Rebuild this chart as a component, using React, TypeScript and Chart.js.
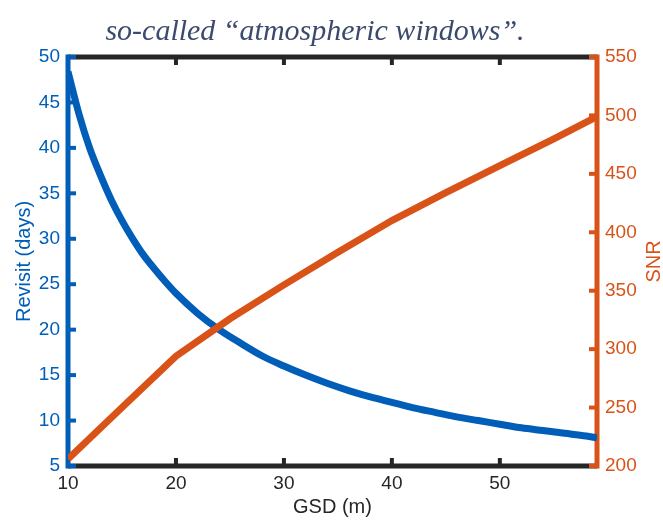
import React, { useEffect, useRef } from "react";
import { Chart, registerables } from "chart.js";

Chart.register(...registerables);

// ---- data ----
const revisitGsd = [10, 11, 12, 13, 14, 15, 16, 17, 18, 19, 20, 22, 24, 26, 28, 30, 32, 34, 36, 38, 40, 42, 44, 46, 48, 50, 52, 54, 56, 58, 59];
const revisitDays = [48.4, 43.8, 40, 37, 34.3, 32, 30, 28.2, 26.7, 25.3, 24, 21.8, 20, 18.5, 17.1, 16, 15, 14.1, 13.3, 12.6, 12, 11.4, 10.9, 10.4, 10, 9.6, 9.2, 8.9, 8.6, 8.3, 8.1];
const snrGsd = [10, 15, 20, 25, 30, 35, 40, 45, 50, 55, 59];
const snrValues = [206, 250, 294, 326, 355, 383, 410, 434, 457, 480, 499];
const gsdTicks = [10, 20, 30, 40, 50];
const revisitTicks = [5, 10, 15, 20, 25, 30, 35, 40, 45, 50];
const snrTicks = [200, 250, 300, 350, 400, 450, 500, 550];

const TITLE = "so-called \u201catmospheric windows\u201d.";
const X_LABEL = "GSD (m)";
const Y_LABEL = "Revisit (days)";
const Y1_LABEL = "SNR";

const BLUE = "#005EB8";
const ORANGE = "#D95319";
const DARK = "#262626";
const FONT = "'Liberation Sans', Arial, Helvetica, sans-serif";

const framePlugin = {
  id: "frame",
  beforeDatasetsDraw(chart: any) {
    const { ctx, chartArea, scales } = chart;
    const { left, right, top, bottom } = chartArea;
    const seg = (x1: number, y1: number, x2: number, y2: number) => {
      ctx.beginPath();
      ctx.moveTo(x1, y1);
      ctx.lineTo(x2, y2);
      ctx.stroke();
    };
    ctx.save();
    ctx.lineCap = "butt";
    ctx.strokeStyle = DARK;
    ctx.lineWidth = 5;
    seg(left, top, right, top);
    seg(left, bottom, right, bottom);
    ctx.lineWidth = 4;
    for (const v of gsdTicks) {
      const x = scales.x.getPixelForValue(v);
      seg(x, bottom, x, bottom - 8);
      seg(x, top, x, top + 8);
    }
    ctx.strokeStyle = BLUE;
    ctx.lineWidth = 5;
    seg(left, top - 2.5, left, bottom + 2.5);
    ctx.lineWidth = 4;
    for (const v of revisitTicks) {
      const y = scales.y.getPixelForValue(v);
      seg(left, y, left + 8, y);
    }
    ctx.strokeStyle = ORANGE;
    ctx.lineWidth = 5;
    seg(right, top - 2.5, right, bottom + 2.5);
    ctx.lineWidth = 4;
    for (const v of snrTicks) {
      const y = scales.y1.getPixelForValue(v);
      seg(right, y, right - 8, y);
    }
    ctx.restore();
  },
  afterDraw(chart: any) {
    const { ctx, chartArea } = chart;
    ctx.save();
    ctx.translate(654, (chartArea.top + chartArea.bottom) / 2);
    ctx.rotate(-Math.PI / 2);
    ctx.fillStyle = ORANGE;
    ctx.font = `20px ${FONT}`;
    ctx.textAlign = "center";
    ctx.textBaseline = "middle";
    ctx.fillText(Y1_LABEL, 0, 0);
    ctx.restore();
  },
};

export default function App() {
  const canvasRef = useRef<HTMLCanvasElement | null>(null);

  useEffect(() => {
    document.body.style.margin = "0";
    const canvas = canvasRef.current;
    if (!canvas) return;
    const chart = new Chart(canvas, {
      type: "line",
      data: {
        datasets: [
          {
            label: Y_LABEL,
            data: revisitGsd.map((x, i) => ({ x, y: revisitDays[i] })),
            yAxisID: "y",
            borderColor: BLUE,
            backgroundColor: BLUE,
            borderWidth: 7,
            pointRadius: 0,
            cubicInterpolationMode: "monotone",
            fill: false,
            order: 2,
          },
          {
            label: Y1_LABEL,
            data: snrGsd.map((x, i) => ({ x, y: snrValues[i] })),
            yAxisID: "y1",
            borderColor: ORANGE,
            backgroundColor: ORANGE,
            borderWidth: 7,
            pointRadius: 0,
            tension: 0,
            fill: false,
            order: 1,
          },
        ],
      },
      options: {
        responsive: false,
        animation: false,
        devicePixelRatio: 1,
        layout: { padding: { top: 57, left: 0, right: 0, bottom: 0 } },
        plugins: {
          legend: { display: false },
          tooltip: { enabled: false },
          title: { display: false },
        },
        scales: {
          x: {
            type: "linear",
            min: 10,
            max: 59,
            afterBuildTicks: (s: any) => {
              s.ticks = gsdTicks.map((value) => ({ value }));
            },
            afterFit: (s: any) => {
              s.height = 54;
            },
            grid: { display: false, drawTicks: false },
            border: { display: false },
            ticks: { color: DARK, font: { family: FONT, size: 19 }, padding: 6, maxRotation: 0 },
            title: {
              display: true,
              text: X_LABEL,
              color: DARK,
              font: { family: FONT, size: 20 },
              padding: { top: 0, bottom: 1 },
            },
          },
          y: {
            type: "linear",
            position: "left",
            min: 5,
            max: 50,
            afterBuildTicks: (s: any) => {
              s.ticks = revisitTicks.map((value) => ({ value }));
            },
            afterFit: (s: any) => {
              s.width = 68;
            },
            grid: { display: false, drawTicks: false },
            border: { display: false },
            ticks: { color: BLUE, font: { family: FONT, size: 19 }, padding: 8 },
            title: {
              display: true,
              text: Y_LABEL,
              color: BLUE,
              font: { family: FONT, size: 20 },
              padding: { top: 12, bottom: 0 },
            },
          },
          y1: {
            type: "linear",
            position: "right",
            min: 200,
            max: 550,
            afterBuildTicks: (s: any) => {
              s.ticks = snrTicks.map((value) => ({ value }));
            },
            afterFit: (s: any) => {
              s.width = 66;
            },
            grid: { display: false, drawTicks: false },
            border: { display: false },
            ticks: { color: ORANGE, font: { family: FONT, size: 19 }, padding: 8 },
            title: { display: false },
          },
        },
      },
      plugins: [framePlugin],
    } as any);
    return () => chart.destroy();
  }, []);

  return (
    <div style={{ position: "relative", width: 663, height: 520, background: "#fff" }}>
      <div
        style={{
          position: "absolute",
          top: 15,
          left: 0,
          width: 630,
          textAlign: "center",
          fontFamily: "'Liberation Serif', 'Times New Roman', serif",
          fontStyle: "italic",
          fontSize: 30,
          lineHeight: "30px",
          color: "#3C4A6E",
          whiteSpace: "nowrap",
        }}
      >
        {TITLE}
      </div>
      <canvas ref={canvasRef} width={663} height={520} style={{ display: "block" }} />
    </div>
  );
}
